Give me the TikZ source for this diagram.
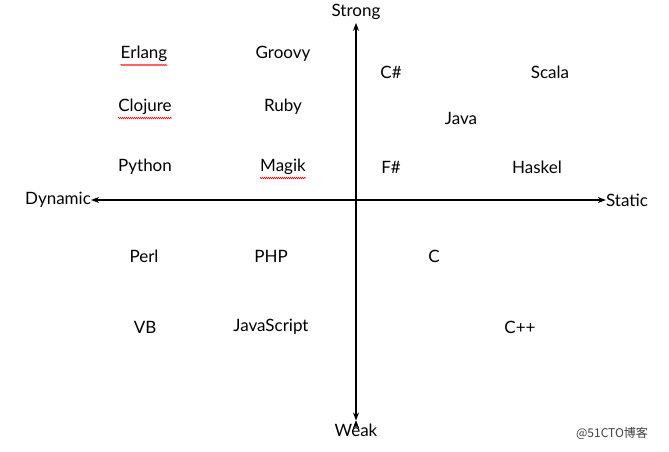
\documentclass[tikz,border=0pt]{standalone}
\usepackage{fontspec}
\setmainfont{Lato}
\newfontfamily\cjk{Noto Sans CJK SC}
\usetikzlibrary{arrows.meta,decorations.pathmorphing}
\begin{document}
\begin{tikzpicture}[x=1pt,y=-1pt,
  lang/.style={font=\fontsize{17}{19}\selectfont, inner sep=0pt, anchor=center},
  axis/.style={line width=1.2pt, {Stealth[length=8pt,width=6pt]}-{Stealth[length=8pt,width=6pt]}},
  squig/.style={red, line width=0.6pt, decorate, decoration={zigzag,amplitude=0.7pt,segment length=2pt}}]
\useasboundingbox[fill=white] (0,0) rectangle (669,451);
\node[lang] (strong) at (356,12) {Strong};
\node[lang] (weak) at (356,430) {Weak};
\node[lang] (dyn) at (58,200) {Dynamic};
\node[lang] (stat) at (627,200) {Static};
\draw[axis] (dyn.east) -- (stat.west);
\draw[axis] (strong.south) ++(0,3) coordinate (st) (weak.north) ++(0,-3) coordinate (wk);
\draw[axis] (st) -- (wk);
\node[lang] (erlang) at (144,54) {Erlang};
\node[lang] (groovy) at (283,54) {Groovy};
\node[lang] (cs) at (391,72) {C\#};
\node[lang] (scala) at (550,72) {Scala};
\node[lang] (clojure) at (145,107) {Clojure};
\node[lang] (ruby) at (283,107) {Ruby};
\node[lang] (java) at (461,118) {Java};
\node[lang] (python) at (145,167) {Python};
\node[lang] (magik) at (283,167) {Magik};
\node[lang] (fs) at (391,167) {F\#};
\node[lang] (haskel) at (537,167) {Haskel};
\node[lang] (perl) at (144,256) {Perl};
\node[lang] (php) at (271,256) {PHP};
\node[lang] (c) at (434,256) {C};
\node[lang] (vb) at (145,327) {VB};
\node[lang] (js) at (271,327) {JavaScript};
\node[lang] (cpp) at (520,327) {C++};
\foreach \n in {erlang,clojure,magik}
  \draw[squig] ([yshift=-3pt]\n.south west) -- ([yshift=-3pt]\n.south east);
\node[font=\cjk\fontsize{12}{14}\selectfont, text=black!75, inner sep=0pt] (wm) at (612,433) {@51CTO博客};
\end{tikzpicture}
\end{document}
